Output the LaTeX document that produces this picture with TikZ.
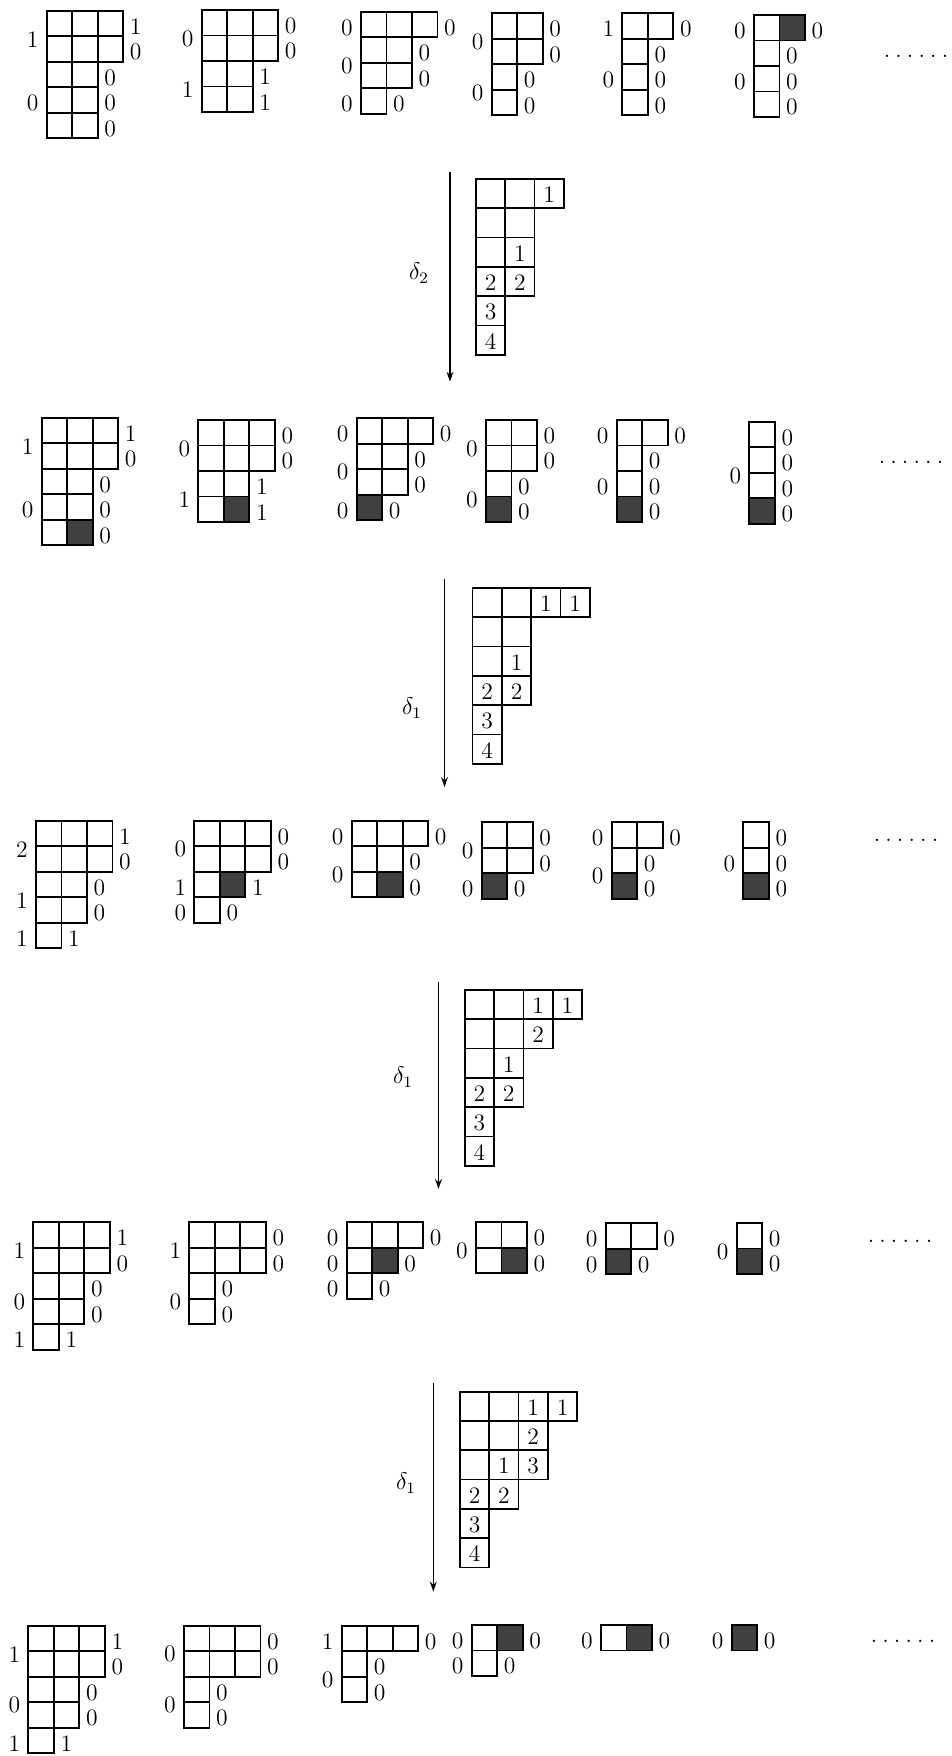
\documentclass[tikz,border=0pt]{standalone}
\usetikzlibrary{arrows.meta}
\tikzset{
  cell/.style={draw, line width=0.85pt},
  shadecell/.style={fill=black!75, draw=black, line width=0.85pt},
  lab/.style={font=\fontsize{11.8}{14}\selectfont, inner sep=0pt},
  dlab/.style={font=\fontsize{12}{14}\selectfont, inner sep=0pt},
  arr/.style={line width=0.8pt, -{Stealth[length=5pt,width=3.4pt]}},
}
\newcommand\cs{25.5}
\newcommand\bcs{29.3}
% shaded cell (row, col) inside current small tableau
\newcommand\sh[2]{\filldraw[shadecell] ({(#2-1)*\cs},{(#1-1)*\cs}) rectangle ({#2*\cs},{#1*\cs});}
% small tableau: #1 name, #2 x, #3 y, #4 len/rightlabel, #5 leftlabel/r1/r2, #6 shading
\newcommand\ytab[6]{%
\begin{scope}[shift={(#2,#3)}]
  \foreach [count=\r] \len/\rl in {#4} {
    \foreach \c in {1,...,\len} \draw[cell] ({(\c-1)*\cs},{(\r-1)*\cs}) rectangle ({\c*\cs},{\r*\cs});
  }
  #6
  \foreach [count=\r] \len/\rl in {#4} {
    \node[lab] (#1R\r) at ({\len*\cs+12.5},{(\r-0.5)*\cs+3}) {\rl};
  }
  \foreach [count=\i] \ll/\ra/\rb in {#5} {
    \node[lab] (#1L\i) at (-14,{(\ra+\rb-1)*\cs/2+3}) {\ll};
  }
\end{scope}}
% big tableau: #1 name, #2 x, #3 y, #4 row lengths, #5 entries r/c/text
\newcommand\btab[5]{%
\begin{scope}[shift={(#2,#3)}]
  \foreach [count=\r] \len in {#4} {
    \foreach \c in {1,...,\len} \draw[cell] ({(\c-1)*\bcs},{(\r-1)*\bcs}) rectangle ({\c*\bcs},{\r*\bcs});
  }
  \foreach [count=\i] \er/\ec/\et in {#5} {
    \node[lab] (#1E\i) at ({(\ec-0.5)*\bcs},{(\er-0.5)*\bcs+1}) {\et};
  }
\end{scope}}
\newcommand\mydots{.\kern2.6pt.\kern2.6pt.\kern2.6pt.\kern2.6pt.\kern2.6pt.}
\begin{document}
\begin{tikzpicture}[x=0.5pt,y=-0.5pt]
\useasboundingbox (0,0) rectangle (952,1756);
% ---------- row 1
\ytab{a1}{46.7}{10.7}{3/1,3/0,2/0,2/0,2/0}{1/1/2,0/3/5}{}
\ytab{a2}{201.7}{10}{3/0,3/0,2/1,2/1}{0/1/2,1/3/4}{}
\ytab{a3}{361}{11.7}{3/0,2/0,2/0,1/0}{0/1/1,0/2/3,0/4/4}{}
\ytab{a4}{491.7}{13.3}{2/0,2/0,1/0,1/0}{0/1/2,0/3/4}{}
\ytab{a5}{622.3}{13.3}{2/0,1/0,1/0,1/0}{1/1/1,0/2/4}{}
\ytab{a6}{754}{15}{2/0,1/0,1/0,1/0}{0/1/1,0/2/4}{\sh{1}{2}}
\node[lab] (dotsA) at (916,56) {\mydots};
% ---------- arrow 1
\btab{g1}{476}{179}{3,2,2,2,1,1}{1/3/1,3/2/1,4/1/2,4/2/2,5/1/3,6/1/4}
\coordinate (s1) at (450,171.7);
\coordinate (e1) at (450,381.7);
\draw[arr] (s1) -- (e1);
\node[dlab] (d1) at (419,273) {$\delta_2$};
% ---------- row 2
\ytab{b1}{41.7}{417.7}{3/1,3/0,2/0,2/0,2/0}{1/1/2,0/3/5}{\sh{5}{2}}
\ytab{b2}{198.3}{420}{3/0,3/0,2/1,2/1}{0/1/2,1/3/4}{\sh{4}{2}}
\ytab{b3}{356.7}{418.3}{3/0,2/0,2/0,1/0}{0/1/1,0/2/3,0/4/4}{\sh{4}{1}}
\ytab{b4}{486}{420}{2/0,2/0,1/0,1/0}{0/1/2,0/3/4}{\sh{4}{1}}
\ytab{b5}{616.7}{420}{2/0,1/0,1/0,1/0}{0/1/1,0/2/4}{\sh{4}{1}}
\ytab{b6}{749.3}{421.7}{1/0,1/0,1/0,1/0}{0/1/4}{\sh{4}{1}}
\node[lab] (dotsB) at (911,462) {\mydots};
% ---------- arrow 2
\btab{g2}{472.6}{588}{4,2,2,2,1,1}{1/3/1,1/4/1,3/2/1,4/1/2,4/2/2,5/1/3,6/1/4}
\coordinate (s2) at (444.5,579);
\coordinate (e2) at (444.5,787);
\draw[arr] (s2) -- (e2);
\node[dlab] (d2) at (412,708) {$\delta_1$};
% ---------- row 3
\ytab{c1}{36}{820.7}{3/1,3/0,2/0,2/0,1/1}{2/1/2,1/3/4,1/5/5}{}
\ytab{c2}{194.3}{820.7}{3/0,3/0,2/1,1/0}{0/1/2,1/3/3,0/4/4}{\sh{3}{2}}
\ytab{c3}{351.7}{820.7}{3/0,2/0,2/0}{0/1/1,0/2/3}{\sh{3}{2}}
\ytab{c4}{481.7}{822.3}{2/0,2/0,1/0}{0/1/2,0/3/3}{\sh{3}{1}}
\ytab{c5}{611.7}{822.3}{2/0,1/0,1/0}{0/1/1,0/2/3}{\sh{3}{1}}
\ytab{c6}{743.3}{822.3}{1/0,1/0,1/0}{0/1/3}{\sh{3}{1}}
\node[lab] (dotsC) at (906,840) {\mydots};
% ---------- arrow 3
\btab{g3}{464.8}{990}{4,3,2,2,1,1}{1/3/1,1/4/1,2/3/2,3/2/1,4/1/2,4/2/2,5/1/3,6/1/4}
\coordinate (s3) at (438.5,982);
\coordinate (e3) at (438.5,1189);
\draw[arr] (s3) -- (e3);
\node[dlab] (d3) at (403,1077) {$\delta_1$};
% ---------- row 4
\ytab{d1}{33.3}{1222.3}{3/1,3/0,2/0,2/0,1/1}{1/1/2,0/3/4,1/5/5}{}
\ytab{d2}{189.3}{1222.3}{3/0,3/0,1/0,1/0}{1/1/2,0/3/4}{}
\ytab{d3}{346.7}{1222.3}{3/0,2/0,1/0}{0/1/1,0/2/2,0/3/3}{\sh{2}{2}}
\ytab{d4}{476}{1222.3}{2/0,2/0}{0/1/2}{\sh{2}{2}}
\ytab{d5}{605.7}{1223.3}{2/0,1/0}{0/1/1,0/2/2}{\sh{2}{1}}
\ytab{d6}{736.7}{1223}{1/0,1/0}{0/1/2}{\sh{2}{1}}
\node[lab] (dotsD) at (900,1241) {\mydots};
% ---------- arrow 4
\btab{g4}{460}{1391.7}{4,3,3,2,1,1}{1/3/1,1/4/1,2/3/2,3/2/1,3/3/3,4/1/2,4/2/2,5/1/3,6/1/4}
\coordinate (s4) at (433.3,1383);
\coordinate (e4) at (433.3,1591.7);
\draw[arr] (s4) -- (e4);
\node[dlab] (d4) at (406,1483) {$\delta_1$};
% ---------- row 5
\ytab{e1}{28.3}{1625.7}{3/1,3/0,2/0,2/0,1/1}{1/1/2,0/3/4,1/5/5}{}
\ytab{e2}{184}{1625.7}{3/0,3/0,1/0,1/0}{0/1/2,0/3/4}{}
\ytab{e3}{341.7}{1625.7}{3/0,1/0,1/0}{1/1/1,0/2/3}{}
\ytab{e4}{471.7}{1625}{2/0,1/0}{0/1/1,0/2/2}{\sh{1}{2}}
\ytab{e5}{601}{1625}{2/0}{0/1/1}{\sh{1}{2}}
\ytab{e6}{731.7}{1625}{1/0}{0/1/1}{\sh{1}{1}}
\node[lab] (dotsE) at (903,1641) {\mydots};
\end{tikzpicture}
\end{document}
